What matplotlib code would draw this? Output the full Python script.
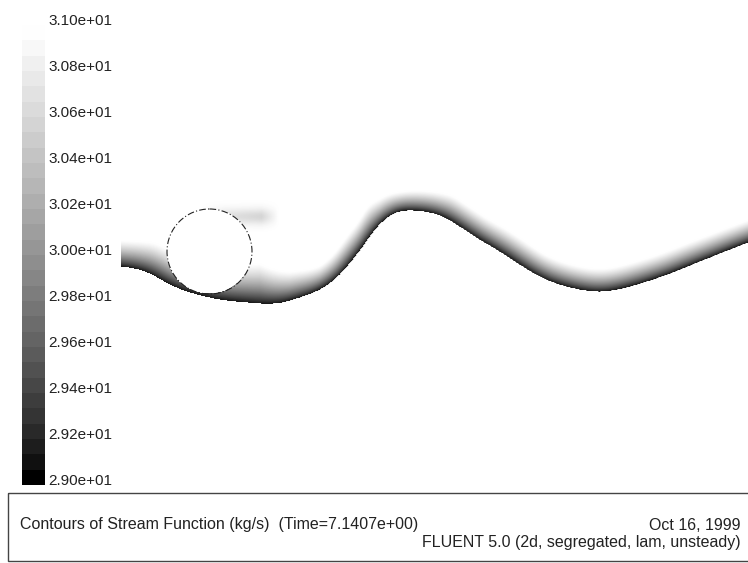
import numpy as np
import matplotlib
matplotlib.use("Agg")
import matplotlib.pyplot as plt
from matplotlib.colors import BoundaryNorm, ListedColormap
from matplotlib.cm import ScalarMappable
from matplotlib.patches import Circle, Rectangle

plt.rcParams['font.family'] = ['Liberation Sans', 'DejaVu Sans']

# ---- data (screen-space flow domain, y grows downward) ----
# lower (dark) edge of the stream-function band
edge_x = [122, 148, 165, 182, 198, 215, 248, 282, 300, 320, 340, 353, 363, 373,
          383, 397, 413, 430, 447, 460, 480, 500, 520, 540, 560, 580, 600, 630,
          650, 670, 690, 710, 730, 748]
edge_y = [267, 273, 282, 290, 295, 299, 303, 303, 298, 290, 275, 260, 247, 233,
          222, 213, 211, 213, 219, 227, 240, 252, 265, 277, 285, 290, 292, 287,
          281, 274, 266, 258, 250, 243]
# width of the band (normal to the edge) along x
thick_x = [122, 165, 215, 260, 290, 320, 380, 450, 600, 748]
thick_v = [26, 30, 34, 40, 28, 21, 18, 22, 23, 21]
# faint wake shed above the cylinder
wake_x = [200, 225, 262, 279]
wake_depth = [0.0, 0.14, 0.2, 0.0]
wake_yc = 217
wake_halfwidth = 8

# cylinder
cyl_x, cyl_y, cyl_r = 209.5, 251.5, 42.5

# scale
psi_min, psi_max = 29.0, 31.0
n_levels = 30
tick_values = [29.0, 29.2, 29.4, 29.6, 29.8, 30.0, 30.2, 30.4, 30.6, 30.8, 31.0]

title_left = "Contours of Stream Function (kg/s)  (Time=7.1407e+00)"
title_date = "Oct 16, 1999"
title_solver = "FLUENT 5.0 (2d, segregated, lam, unsteady)"


def natural_spline(xk, yk, xq):
    xk = np.asarray(xk, float)
    yk = np.asarray(yk, float)
    n = len(xk)
    h = np.diff(xk)
    A = np.zeros((n, n))
    r = np.zeros(n)
    A[0, 0] = A[-1, -1] = 1.0
    for i in range(1, n - 1):
        A[i, i - 1] = h[i - 1]
        A[i, i] = 2 * (h[i - 1] + h[i])
        A[i, i + 1] = h[i]
        r[i] = 3 * ((yk[i + 1] - yk[i]) / h[i] - (yk[i] - yk[i - 1]) / h[i - 1])
    c = np.linalg.solve(A, r)
    b = (yk[1:] - yk[:-1]) / h - h * (2 * c[:-1] + c[1:]) / 3
    d = (c[1:] - c[:-1]) / (3 * h)
    idx = np.clip(np.searchsorted(xk, xq) - 1, 0, n - 2)
    dx = xq - xk[idx]
    return yk[idx] + b[idx] * dx + c[idx] * dx ** 2 + d[idx] * dx ** 3


# grey ramp, slightly lifted in the mid-tones
ramp = np.linspace(0, 1, 256) ** 0.8
grey_cmap = ListedColormap(np.column_stack([ramp, ramp, ramp]))

# ---- build the field ----
xs = np.arange(edge_x[0], edge_x[-1] + 1, 1.0)
ys = np.arange(185, 330, 1.0)
X, Y = np.meshgrid(xs, ys)

edge = natural_spline(edge_x, edge_y, xs)
slope = np.gradient(edge, xs)
thick = np.interp(xs, thick_x, thick_v)

d_perp = (edge[None, :] - Y) / np.sqrt(1 + slope[None, :] ** 2)
t = d_perp / thick[None, :]
gray = 1 - 0.95 * np.clip(1 - t, 0, 1) ** 1.3
gray = np.where(t >= 0, gray, 1.0)

wake_profile = np.interp(xs, wake_x, wake_depth, left=0.0, right=0.0)
wake = wake_profile[None, :] * np.exp(-((Y - wake_yc) / wake_halfwidth) ** 2)
gray = np.minimum(gray, 1 - wake)

psi = psi_min + (psi_max - psi_min) * gray
psi[(X - cyl_x) ** 2 + (Y - cyl_y) ** 2 < cyl_r ** 2] = psi_max

# ---- figure ----
fig = plt.figure(figsize=(7.48, 5.63), dpi=100)
ax = fig.add_axes([0, 0, 1, 1])
ax.set_xlim(0, 748)
ax.set_ylim(563, 0)
ax.axis('off')

ax.imshow(psi, cmap=grey_cmap, vmin=psi_min, vmax=psi_max, origin='upper',
          extent=(xs[0] - 0.5, xs[-1] + 0.5, ys[-1] + 0.5, ys[0] - 0.5),
          interpolation='bilinear', aspect='auto', zorder=1)

ax.add_patch(Circle((cyl_x, cyl_y), cyl_r, fill=False, edgecolor='#222222',
                    linewidth=0.8, linestyle=(0, (6, 2, 1, 2)), zorder=3))

# title block
ax.add_patch(Rectangle((8, 493), 760, 68, fill=False, edgecolor='#444444',
                       linewidth=1.0, zorder=2))
ax.text(20, 525, title_left, fontsize=11.5, color='#222222', va='center', ha='left')
ax.text(741, 525, title_date, fontsize=11.5, color='#222222', va='center', ha='right')
ax.text(741, 543, title_solver, fontsize=11.5, color='#222222', va='center', ha='right')

# colour scale
cax = fig.add_axes([22 / 748, (563 - 485) / 563, 23 / 748, 460 / 563])
levels = np.linspace(psi_min, psi_max, n_levels + 1)
sm = ScalarMappable(norm=BoundaryNorm(levels, 256), cmap=grey_cmap)
cb = fig.colorbar(sm, cax=cax, orientation='vertical')
cb.outline.set_visible(False)
cax.minorticks_off()
cax.set_yticks([])
cax.tick_params(length=0, which='both')
cax.set_ylim(psi_min, psi_max)
for v in tick_values:
    cax.annotate(f"{v:.2e}", xy=(1, v), xycoords=('axes fraction', 'data'),
                 xytext=(3, 4), textcoords='offset pixels', va='center',
                 ha='left', fontsize=11, color='#222222', annotation_clip=False)

fig.savefig("out.png", dpi=100)
